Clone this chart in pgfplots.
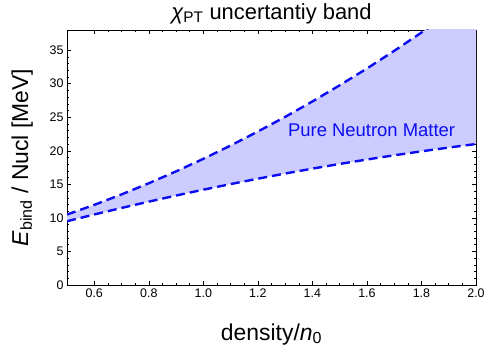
\documentclass[border=0pt]{standalone}
\usepackage{pgfplots}
\pgfplotsset{compat=1.18}
\usepgfplotslibrary{fillbetween}
\usepackage{fontspec}
\setmainfont{Liberation Sans}
\definecolor{bandfill}{rgb}{0.8,0.8,1}
\definecolor{lineblue}{rgb}{0.05,0.05,0.95}
\begin{document}
\begin{tikzpicture}
\begin{axis}[
  at={(67bp,64bp)}, anchor=south west,
  scale only axis, width=409bp, height=255bp,
  xmin=0.5, xmax=2.0, ymin=0, ymax=38,
  xtick={0.6,0.8,...,2.01},
  ytick={0,5,...,35},
  minor x tick num=3, minor y tick num=4,
  tick align=inside,
  major tick length=4bp, minor tick length=2.2bp,
  tick style={black, line width=0.5pt},
  axis line style={black, line width=0.6pt},
  /pgf/number format/assume math mode=true,
  xticklabel style={font=\fontsize{12.5}{14}\selectfont, /pgf/number format/.cd, fixed, fixed zerofill, precision=1},
  yticklabel style={font=\fontsize{12.5}{14}\selectfont},
  title={{\itshape χ}\textsubscript{PT} uncertantiy band},
  title style={font=\fontsize{22}{24}\selectfont, at={(axis description cs:0.5,1)}, anchor=base, yshift=5bp},
  xlabel={density/\textit{n}\textsubscript{0}},
  ylabel={\textit{E}\textsubscript{bind} / Nucl [MeV]},
  xlabel style={font=\fontsize{23}{25}\selectfont, at={(axis description cs:0.5,0)}, anchor=base, yshift=-55bp},
  ylabel style={font=\fontsize{23}{25}\selectfont, at={(axis description cs:-0.095,0.5)}, anchor=base},
]
\addplot[name path=upper, lineblue, line width=2.4bp, dash pattern=on 9bp off 5bp] coordinates {
(0.5,10.50) (0.6,11.94) (0.7,13.50) (0.8,15.16) (0.9,16.93) (1.0,18.80)
(1.1,20.78) (1.2,22.87) (1.3,25.05) (1.4,27.35) (1.5,29.76) (1.6,32.26)
(1.7,34.89) (1.8,37.62) (1.9,40.45) (2.0,43.40)};
\addplot[name path=lower, lineblue, line width=2.4bp, dash pattern=on 9bp off 5bp] coordinates {
(0.5,9.50) (0.6,10.51) (0.7,11.48) (0.8,12.42) (0.9,13.33) (1.0,14.20)
(1.1,15.04) (1.2,15.84) (1.3,16.61) (1.4,17.34) (1.5,18.04) (1.6,18.70)
(1.7,19.33) (1.8,19.92) (1.9,20.48) (2.0,21.01)};
\addplot[bandfill, draw=none] fill between[of=upper and lower];
\node[text=lineblue, font=\fontsize{18.5}{20}\selectfont] at (axis cs:1.617,23.1) {Pure Neutron Matter};
\end{axis}
\pgfresetboundingbox
\useasboundingbox (0,0) rectangle (487bp,349bp);
\end{tikzpicture}
\end{document}
